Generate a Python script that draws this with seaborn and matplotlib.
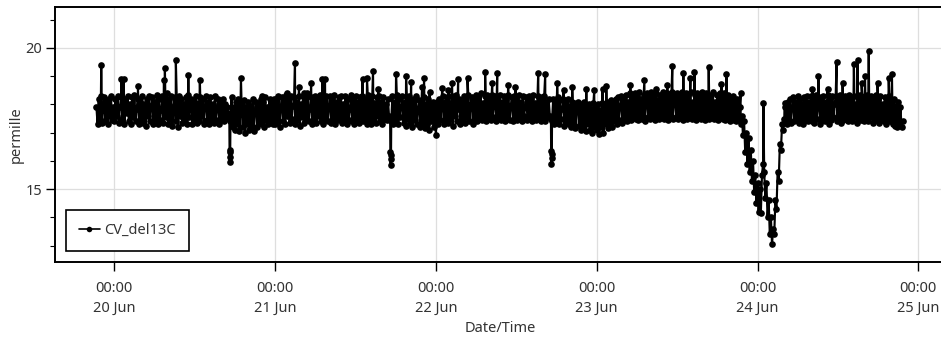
import matplotlib
matplotlib.use("Agg")
import matplotlib.pyplot as plt
import matplotlib.dates as mdates
from matplotlib.ticker import MultipleLocator
import pandas as pd
import seaborn as sns

# ---------------- data ----------------
series_name = "CV_del13C"
start_time = "2014-06-19 21:20"   # first sample, 10-minute sampling
step = "10min"

day19 = [17.9, 17.3, 18.2, 17.5, 18.3, 17.35, 17.8, 18.25, 17.4, 18.1, 17.3, 18.2,
         17.6, 18.3, 17.45, 17.9]
day20 = [17.4, 18.2, 17.6, 18.3, 17.35, 17.9, 18.25, 17.5, 18.1, 17.3, 18.2, 17.7,
         18.3, 17.4, 18.0, 17.3, 18.25, 17.55, 18.35, 17.4, 17.85, 18.2, 17.3, 18.1,
         17.5, 18.3, 17.35, 18.0, 17.25, 18.2, 17.6, 18.3, 17.4, 17.95, 18.25, 17.3,
         18.1, 17.5, 18.35, 17.3, 18.2, 17.45, 17.8, 18.3, 17.35, 18.15, 17.55, 18.4,
         17.3, 18.2, 17.5, 18.3, 17.25, 17.9, 18.25, 17.4, 18.1, 17.2, 18.3, 17.6,
         18.2, 17.35, 18.0, 17.45, 18.25, 17.3, 18.35, 17.55, 17.85, 18.2, 17.3, 18.1,
         17.5, 18.3, 17.35, 18.05, 17.4, 18.25, 17.6, 18.2, 17.3, 17.9, 18.3, 17.45,
         18.1, 17.3, 18.25, 17.5, 18.0, 17.35, 18.3, 17.45, 17.85, 18.2, 17.3, 18.1,
         17.5, 18.2, 17.4, 18.0, 17.6, 17.9, 17.7, 17.5, 17.4, 18.25, 17.2, 17.9,
         17.1, 18.1, 17.3, 18.2, 17.05, 17.8, 18.0, 17.2, 18.15, 17.0, 17.9, 17.3,
         18.1, 17.1, 17.95, 17.25, 18.2, 17.05, 17.8, 18.1, 17.2, 18.0, 17.35, 18.2,
         17.3, 18.1, 17.2, 18.25, 17.45, 17.9, 17.3, 18.2, 17.4, 18.1, 17.3, 18.2]
day21 = [17.3, 18.2, 17.45, 18.3, 17.2, 17.9, 18.25, 17.4, 18.1, 17.3, 18.35, 17.6,
         18.2, 17.35, 18.3, 17.5, 17.95, 18.25, 17.3, 18.1, 17.45, 18.3, 17.25, 18.0,
         17.55, 18.3, 17.35, 18.2, 17.5, 18.4, 17.4, 17.85, 18.25, 17.3, 18.15, 17.5,
         18.3, 17.35, 18.2, 17.6, 18.35, 17.4, 18.0, 17.3, 18.25, 17.5, 18.3, 17.4,
         17.9, 18.3, 17.35, 18.2, 17.5, 18.35, 17.3, 18.1, 17.45, 18.25, 17.6, 18.3,
         17.35, 18.0, 17.5, 18.3, 17.3, 18.2, 17.45, 17.85, 18.35, 17.4, 18.2, 17.3,
         18.3, 17.5, 18.1, 17.35, 18.25, 17.55, 18.3, 17.4, 17.9, 18.2, 17.3, 18.35,
         17.45, 18.2, 17.3, 18.3, 17.5, 18.05, 17.35, 18.25, 17.6, 18.3, 17.4, 18.1,
         17.3, 18.25, 17.5, 18.0, 17.45, 18.2, 17.6, 17.5, 17.4, 18.3, 17.3, 18.1,
         17.45, 18.35, 17.3, 18.2, 17.55, 17.9, 18.3, 17.35, 18.1, 17.25, 18.25, 17.5,
         18.3, 17.35, 18.0, 17.2, 18.2, 17.45, 18.3, 17.3, 17.85, 18.15, 17.2, 18.0,
         17.35, 18.25, 17.15, 18.0, 17.3, 18.2, 17.1, 17.9, 17.4, 18.1, 17.2, 17.95]
day22 = [16.9, 18.1, 17.3, 18.2, 17.45, 17.9, 18.3, 17.3, 18.1, 17.5, 18.25, 17.35,
         18.0, 17.5, 18.3, 17.25, 18.2, 17.6, 18.35, 17.4, 17.85, 18.2, 17.3, 18.1,
         17.5, 18.3, 17.35, 18.2, 17.55, 18.35, 17.4, 18.0, 18.25, 17.3, 18.15, 17.5,
         18.35, 17.4, 18.2, 17.6, 18.4, 17.45, 18.05, 17.55, 18.3, 17.4, 18.35, 17.6,
         18.2, 17.45, 18.35, 17.55, 18.0, 18.3, 17.4, 18.2, 17.6, 18.35, 17.45, 18.1,
         17.5, 18.3, 17.4, 18.2, 17.55, 18.35, 17.45, 17.95, 18.25, 17.4, 18.3, 17.55,
         18.2, 17.45, 18.35, 17.5, 18.1, 17.4, 18.3, 17.6, 17.9, 18.25, 17.45, 18.3,
         17.5, 18.2, 17.4, 18.35, 17.55, 18.05, 17.45, 18.3, 17.6, 18.2, 17.4, 18.25,
         17.5, 18.3, 17.4, 18.1, 17.55, 18.2, 17.6, 17.5, 17.4, 18.2, 17.3, 18.1,
         17.45, 18.25, 17.3, 18.15, 17.5, 17.85, 18.2, 17.25, 18.1, 17.4, 18.2, 17.3,
         17.95, 17.2, 18.1, 17.35, 18.05, 17.15, 17.9, 18.1, 17.25, 18.0, 17.1, 17.95,
         17.2, 18.1, 17.05, 17.9, 17.3, 18.0, 17.1, 17.85, 17.0, 18.05, 17.2, 17.9]
day23 = [17.1, 18.0, 16.95, 17.8, 17.2, 18.05, 17.0, 17.9, 17.3, 18.1, 17.15, 17.95,
         17.3, 18.15, 17.2, 18.0, 17.4, 18.2, 17.3, 18.25, 17.45, 17.95, 18.3, 17.35,
         18.2, 17.5, 18.35, 17.4, 18.1, 17.6, 18.4, 17.45, 18.25, 17.55, 18.4, 17.5,
         18.3, 17.45, 18.45, 17.6, 18.2, 17.5, 18.35, 17.4, 18.0, 18.4, 17.55, 18.3,
         17.5, 18.45, 17.6, 18.3, 17.45, 18.4, 17.55, 18.15, 17.5, 18.35, 17.6, 18.45,
         17.5, 18.3, 17.6, 18.4, 17.45, 18.25, 17.55, 18.45, 17.5, 18.1, 18.35, 17.55,
         18.4, 17.5, 18.3, 17.6, 18.45, 17.45, 18.2, 17.55, 18.4, 17.5, 18.35, 17.6,
         18.45, 17.5, 18.1, 17.6, 18.35, 17.45, 18.4, 17.55, 18.3, 17.5, 18.45, 17.6,
         18.3, 17.45, 18.4, 17.55, 18.2, 17.5, 18.35, 17.6, 18.45, 17.5, 18.1, 17.55,
         18.35, 17.45, 18.4, 17.6, 18.25, 17.5, 18.4, 17.45, 18.3, 17.55, 18.35, 17.4,
         18.2, 17.5, 18.3, 17.45, 18.1, 17.4, 18.2, 17.5, 17.9, 17.3, 17.6, 16.9,
         17.4, 16.3, 17.0, 15.9, 16.8, 15.6, 16.4, 15.3, 16.0, 14.9, 15.5, 14.5]
day24 = [15.2, 14.2, 15.0, 14.15, 15.5, 15.9, 15.6, 14.7, 15.2, 14.0, 14.6, 13.4,
         14.0, 13.05, 13.6, 13.4, 14.6, 14.3, 15.6, 15.3, 16.6, 16.4, 17.3, 17.1,
         17.5, 17.9, 17.3, 18.1, 17.45, 18.2, 17.35, 17.9, 18.25, 17.4, 18.1, 17.5,
         18.3, 17.35, 18.2, 17.5, 18.0, 17.3, 18.25, 17.45, 18.3, 17.4, 18.1, 17.55,
         18.3, 17.4, 18.2, 17.35, 18.35, 17.5, 17.95, 18.25, 17.3, 18.2, 17.45, 18.3,
         17.4, 18.1, 17.5, 18.35, 17.3, 18.2, 17.45, 18.3, 17.55, 18.0, 18.3, 17.4,
         18.2, 17.5, 18.35, 17.35, 18.1, 17.45, 18.3, 17.55, 18.25, 17.4, 18.35, 17.5,
         18.2, 17.4, 18.3, 17.55, 18.0, 17.35, 18.25, 17.5, 18.35, 17.45, 18.2, 17.4,
         18.3, 17.5, 18.35, 17.4, 18.1, 17.55, 18.3, 17.35, 18.25, 17.5, 18.35, 17.45,
         18.2, 17.35, 18.3, 17.5, 18.0, 17.4, 18.25, 17.3, 18.2, 17.45, 18.3, 17.4,
         18.1, 17.3, 18.2, 17.25, 17.95, 17.2, 18.1, 17.3, 17.9, 17.2, 17.4]

# isolated high readings (spikes)
spike_times = [
    "2014-06-19 22:03", "2014-06-20 01:03", "2014-06-20 01:25", "2014-06-20 03:32",
    "2014-06-20 07:24", "2014-06-20 07:33", "2014-06-20 09:11", "2014-06-20 11:03",
    "2014-06-20 12:46", "2014-06-20 18:54", "2014-06-20 22:02", "2014-06-21 01:46",
    "2014-06-21 02:58", "2014-06-21 03:34", "2014-06-21 04:19", "2014-06-21 05:22",
    "2014-06-21 07:03", "2014-06-21 07:27", "2014-06-21 13:03", "2014-06-21 13:43",
    "2014-06-21 14:37", "2014-06-21 15:22", "2014-06-21 18:03", "2014-06-21 19:33",
    "2014-06-21 20:18", "2014-06-21 21:56", "2014-06-21 22:14", "2014-06-21 23:03",
    "2014-06-22 00:56", "2014-06-22 01:52", "2014-06-22 02:25", "2014-06-22 03:19",
    "2014-06-22 04:43", "2014-06-22 07:21", "2014-06-22 08:24", "2014-06-22 09:09",
    "2014-06-22 10:47", "2014-06-22 11:52", "2014-06-22 15:16", "2014-06-22 16:19",
    "2014-06-22 18:06", "2014-06-22 19:03", "2014-06-22 20:21", "2014-06-22 22:27",
    "2014-06-22 23:38", "2014-06-23 00:52", "2014-06-23 01:26", "2014-06-23 05:01",
    "2014-06-23 07:07", "2014-06-23 08:54", "2014-06-23 10:33", "2014-06-23 11:17",
    "2014-06-23 12:56", "2014-06-23 13:59", "2014-06-23 14:35", "2014-06-23 16:43",
    "2014-06-23 18:37", "2014-06-23 19:22", "2014-06-23 21:28", "2014-06-24 00:53",
    "2014-06-24 04:02", "2014-06-24 08:12", "2014-06-24 09:06", "2014-06-24 10:27",
    "2014-06-24 11:48", "2014-06-24 12:42", "2014-06-24 14:23", "2014-06-24 14:56",
    "2014-06-24 15:32", "2014-06-24 16:03", "2014-06-24 16:36", "2014-06-24 17:55",
    "2014-06-24 19:35", "2014-06-24 20:04",
]
spike_values = [
    19.4, 18.9, 18.9, 18.65,
    18.87, 19.3, 19.57, 19.05,
    18.87, 18.95, 18.3, 18.4,
    19.47, 18.6, 18.4, 18.76,
    18.9, 18.9, 18.9, 18.93,
    19.2, 18.55, 19.07, 19.0,
    18.8, 18.6, 18.93, 18.45,
    18.58, 18.5, 18.77, 18.9,
    18.93, 19.15, 18.76, 19.1,
    18.7, 18.6, 19.1, 19.07,
    18.76, 18.5, 18.6, 18.55,
    18.5, 18.55, 18.65, 18.7,
    18.87, 18.55, 18.7, 19.36,
    19.1, 18.95, 19.15, 19.33,
    18.72, 19.08, 18.4, 18.05,
    18.05, 18.55, 19.0, 18.55,
    19.5, 18.76, 19.43, 19.57,
    18.76, 19.0, 19.9, 18.76,
    18.93, 19.07,
]

# short daily drops around 17:15
dip_times = [
    "2014-06-20 17:12", "2014-06-20 17:14", "2014-06-20 17:16", "2014-06-20 17:18",
    "2014-06-21 17:12", "2014-06-21 17:14", "2014-06-21 17:16", "2014-06-21 17:18",
    "2014-06-22 17:12", "2014-06-22 17:14", "2014-06-22 17:16", "2014-06-22 17:18",
]
dip_values = [
    16.4, 15.95, 16.15, 16.3,
    16.3, 15.85, 16.05, 16.2,
    16.35, 15.9, 16.1, 16.25,
]

# ---------------- assemble ----------------
base_values = day19 + day20 + day21 + day22 + day23 + day24
base = pd.DataFrame({
    "time": pd.date_range(start_time, periods=len(base_values), freq=step),
    "value": base_values,
})
spikes = pd.DataFrame({"time": pd.to_datetime(spike_times), "value": spike_values})
dips = pd.DataFrame({"time": pd.to_datetime(dip_times), "value": dip_values})
df = pd.concat([base, spikes, dips]).sort_values("time").reset_index(drop=True)

# ---------------- figure ----------------
sns.set_theme(style="white")
plt.rcParams["font.family"] = ["Noto Sans", "DejaVu Sans"]
text_color = "#333333"

fig = plt.figure(figsize=(9.41, 3.40), dpi=100)
ax = fig.add_axes([55 / 941, 1 - 262 / 340, 890 / 941, 255 / 340])

sns.lineplot(data=df, x="time", y="value", ax=ax, color="black",
             marker="o", markersize=4.8, markeredgewidth=0, linewidth=1.55,
             estimator=None, sort=True, label=series_name)

day0 = pd.Timestamp("2014-06-20")
ax.set_xlim(day0 + pd.Timedelta(days=-0.3688), day0 + pd.Timedelta(days=5.166))
ax.set_ylim(12.42, 21.45)

ax.xaxis.set_major_locator(mdates.DayLocator())
ax.xaxis.set_major_formatter(mdates.DateFormatter("%H:%M\n%d %b"))
ax.set_yticks([15, 20])
ax.yaxis.set_minor_locator(MultipleLocator(1))

ax.grid(True, which="major", color="#dedede", linewidth=0.9)
ax.set_axisbelow(True)
for s in ax.spines.values():
    s.set_color("black")
    s.set_linewidth(1.4)

ax.tick_params(axis="both", which="major", bottom=True, left=True, direction="out",
               length=6.5, width=1.0, color="black", labelsize=10.5,
               labelcolor=text_color)
ax.tick_params(axis="x", which="major", pad=7)
ax.tick_params(axis="y", which="major", pad=3)
ax.tick_params(axis="y", which="minor", left=True, direction="out", length=3.5,
               width=0.8, color="black")

ax.set_xlabel("Date/Time", fontsize=10.5, color=text_color, labelpad=4)
ax.set_ylabel("permille", fontsize=10.5, color=text_color, labelpad=1)

leg = ax.legend(loc="lower left", bbox_to_anchor=(0.0124, 0.043), borderaxespad=0,
                frameon=True, fancybox=False, edgecolor="black", framealpha=1,
                borderpad=0.9, handlelength=1.4, handletextpad=0.3, fontsize=10.5)
leg.get_frame().set_linewidth(1.2)
for t in leg.get_texts():
    t.set_color(text_color)
for h in leg.legend_handles:
    h.set_linewidth(1.2)
    h.set_markersize(4.0)

fig.canvas.draw()
for lab in ax.get_xticklabels():
    lab.set_linespacing(1.45)

fig.savefig("out.png", dpi=100)
